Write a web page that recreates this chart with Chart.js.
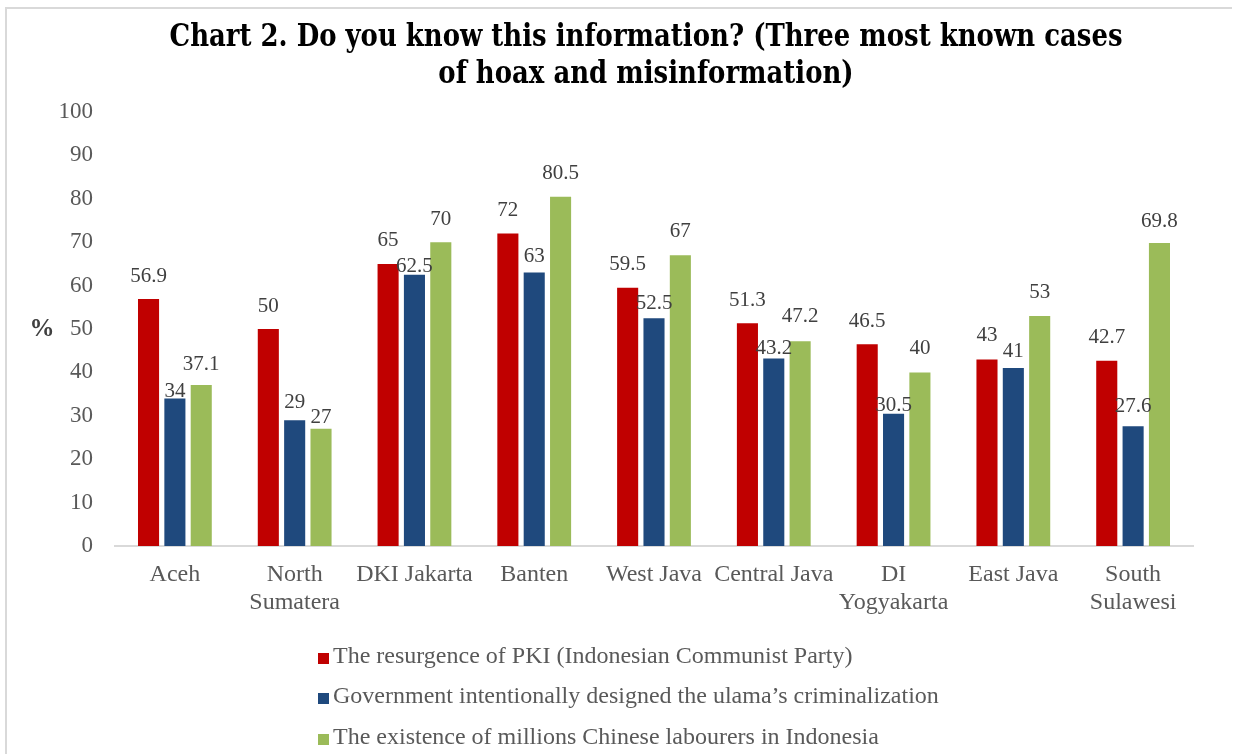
<!DOCTYPE html>
<html>
<head>
<meta charset="utf-8">
<title>Chart 2</title>
<script src="https://cdn.jsdelivr.net/npm/chart.js@4.4.1/dist/chart.umd.min.js"></script>
<style>
  html, body { margin: 0; padding: 0; background: #fff; }
  canvas { display: block; }
</style>
</head>
<body>
<canvas id="hoaxChart" width="1234" height="754"></canvas>
<script>
// provinces and survey answers (%)
var provinces = ['Aceh', ['North', 'Sumatera'], 'DKI Jakarta', 'Banten', 'West Java',
                 'Central Java', ['DI', 'Yogyakarta'], 'East Java', ['South', 'Sulawesi']];
var seriesNames = [
  'The resurgence of PKI (Indonesian Communist Party)',
  'Government intentionally designed the ulama\u2019s criminalization',
  'The existence of millions Chinese labourers in Indonesia'
];
var pkiValues     = [56.9, 50, 65, 72, 59.5, 51.3, 46.5, 43, 42.7];
var ulamaValues   = [34, 29, 62.5, 63, 52.5, 43.2, 30.5, 41, 27.6];
var chineseValues = [37.1, 27, 70, 80.5, 67, 47.2, 40, 53, 69.8];
var yTicks = [0, 10, 20, 30, 40, 50, 60, 70, 80, 90, 100];

var titleLines = ['Chart 2. Do you know this information? (Three most known cases',
                  'of hoax and misinformation)'];

// how far above each bar top its value label sits
var labelLift = [
  [23, 23, 23, 23, 23, 23, 23, 24, 23],
  [7, 18, 8, 16, 15, 10, 8, 17, 20],
  [21, 11, 23, 23, 24, 25, 24, 23, 22]
];

var serif = "'Liberation Serif', 'Times New Roman', serif";
Chart.defaults.font.family = serif;

// frame lines, bold title and the "%" label
var framePlugin = {
  id: 'framePlugin',
  beforeDraw: function (chart) {
    var ctx = chart.ctx;
    ctx.save();
    ctx.strokeStyle = '#d9d9d9';
    ctx.lineWidth = 2;
    ctx.beginPath();
    ctx.moveTo(6, 754);
    ctx.lineTo(6, 8);
    ctx.lineTo(1232, 8);
    ctx.stroke();

    ctx.fillStyle = '#000';
    ctx.font = "bold 31px 'DejaVu Serif', serif";
    ctx.textAlign = 'center';
    ctx.textBaseline = 'alphabetic';
    var w0 = ctx.measureText(titleLines[0]).width;
    var sx = 953 / w0;
    ctx.translate(646, 0);
    ctx.scale(sx, 1);
    ctx.fillText(titleLines[0], 0, 46);
    ctx.fillText(titleLines[1], 0, 83);
    ctx.restore();

    ctx.save();
    ctx.fillStyle = '#404040';
    ctx.font = 'bold 25px ' + serif;
    ctx.textAlign = 'center';
    ctx.textBaseline = 'middle';
    ctx.fillText('%', 42, 330);
    ctx.restore();
  }
};

// value labels above bars
var valueLabels = {
  id: 'valueLabels',
  afterDatasetsDraw: function (chart) {
    var ctx = chart.ctx;
    ctx.save();
    ctx.font = '21px ' + serif;
    ctx.fillStyle = '#404040';
    ctx.textAlign = 'center';
    ctx.textBaseline = 'middle';
    chart.data.datasets.forEach(function (ds, i) {
      var meta = chart.getDatasetMeta(i);
      meta.data.forEach(function (bar, j) {
        ctx.fillText(String(ds.data[j]), bar.x, bar.y - labelLift[i][j]);
      });
    });
    ctx.restore();
  }
};

// stacked legend under the axis
var stackedLegend = {
  id: 'stackedLegend',
  afterDraw: function (chart) {
    var ctx = chart.ctx;
    var rows = [657, 697, 738];
    ctx.save();
    ctx.font = '24px ' + serif;
    ctx.textAlign = 'left';
    ctx.textBaseline = 'middle';
    chart.data.datasets.forEach(function (ds, i) {
      ctx.fillStyle = ds.backgroundColor;
      ctx.fillRect(318, rows[i] - 4, 11, 11);
      ctx.fillStyle = '#595959';
      ctx.fillText(ds.label, 333, rows[i]);
    });
    ctx.restore();
  }
};

function barSet(label, data, color) {
  return {
    label: label,
    data: data,
    backgroundColor: color,
    borderWidth: 0,
    categoryPercentage: 0.66,
    barPercentage: 0.8
  };
}

new Chart(document.getElementById('hoaxChart').getContext('2d'), {
  type: 'bar',
  data: {
    labels: provinces,
    datasets: [
      barSet(seriesNames[0], pkiValues, '#c00000'),
      barSet(seriesNames[1], ulamaValues, '#1f497d'),
      barSet(seriesNames[2], chineseValues, '#9bbb59')
    ]
  },
  plugins: [framePlugin, valueLabels, stackedLegend],
  options: {
    responsive: false,
    animation: false,
    layout: { padding: { top: 112, right: 41, left: 0, bottom: 0 } },
    scales: {
      x: {
        grid: { display: false, drawTicks: false },
        border: { display: true, color: '#d9d9d9', width: 2 },
        ticks: {
          color: '#595959',
          font: { size: 24, lineHeight: 1.2 },
          padding: 14,
          maxRotation: 0,
          autoSkip: false
        },
        afterFit: function (scale) { scale.height = 208; }
      },
      y: {
        min: 0,
        max: 100,
        grid: { display: false, drawTicks: false },
        border: { display: false },
        afterBuildTicks: function (scale) {
          scale.ticks = yTicks.map(function (v) { return { value: v }; });
        },
        ticks: {
          color: '#595959',
          font: { size: 23 },
          padding: 22
        },
        afterFit: function (scale) { scale.width = 115; }
      }
    },
    plugins: {
      legend: { display: false },
      title: { display: false },
      tooltip: { enabled: false }
    }
  }
});
</script>
</body>
</html>
